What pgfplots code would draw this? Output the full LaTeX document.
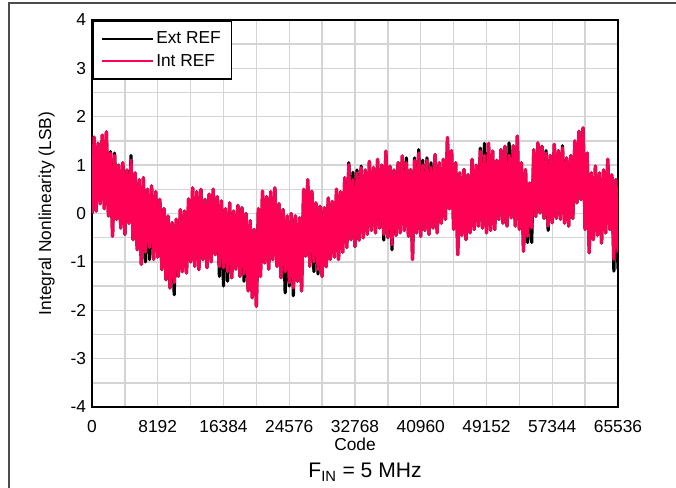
\documentclass[border=0pt]{standalone}
\usepackage{fontspec}
\setmainfont{Liberation Sans}
\usepackage{pgfplots}
\pgfplotsset{compat=1.18}
\definecolor{intref}{RGB}{255,0,85}
\definecolor{gridc}{RGB}{212,212,212}

\begin{document}
\begin{tikzpicture}
% page is 676 x 487 px, 1 px = 0.75pt
\path[use as bounding box] (0pt,0pt) rectangle (507pt,-365.25pt);
\draw[line width=1.1pt, black!70] (6.75pt,-375pt) -- (6.75pt,-2.25pt) -- (520pt,-2.25pt);

\begin{axis}[%
at={(69pt,-305.25pt)}, anchor=south west,
width=394.5pt, height=290.25pt,
scale only axis,
xmin=0, xmax=65536,
ymin=-4, ymax=4,
xtick={0,8192,16384,24576,32768,40960,49152,57344,65536},
ytick={-4,-3,...,4},
minor x tick num=1,
minor y tick num=1,
scaled x ticks=false,
/pgf/number format/assume math mode=true,
major tick length=0pt, minor tick length=0pt,
grid=both,
major grid style={gridc, line width=1.1pt},
minor grid style={gridc, line width=1.1pt},
axis line style={black, line width=1.8pt},
tick label style={font=\fontsize{13}{15}\selectfont},
xticklabel style={yshift=-6.5pt, /pgf/number format/.cd, fixed, 1000 sep={}},
yticklabel style={xshift=-1pt},
label style={font=\fontsize{13}{15}\selectfont},
xlabel={Code},
xlabel style={yshift=3pt},
ylabel={Integral Nonlinearity (LSB)},
ylabel style={yshift=5pt},
legend style={at={(0,1)}, anchor=north west, draw=black, line width=1.4pt,
  font=\fontsize{13}{15}\selectfont, inner xsep=6pt, inner ysep=6pt,
  row sep=2.5pt, legend cell align=left},
legend image code/.code={\draw[#1, line width=1.5pt] (0pt,0pt) -- (38pt,0pt);},
every axis plot/.append style={line join=round},
]
\addplot[black, line width=2.4pt] coordinates {
(0,0.0) (256,1.58) (512,0.05) (768,1.45) (1024,0.2) (1280,1.62) (1536,0.1) (1792,1.69)
(2048,-0.05) (2304,1.28) (2560,-0.47) (2816,1.25) (3072,-0.12) (3328,1.0) (3584,-0.3) (3840,1.05)
(4096,-0.43) (4352,0.9) (4608,-0.2) (4864,1.2) (5120,-0.54) (5376,0.84) (5632,-0.75) (5888,0.7)
(6144,-1.05) (6400,0.74) (6656,-1.0) (6912,0.5) (7168,-0.95) (7424,0.57) (7680,-0.95) (7936,0.45)
(8192,-0.9) (8448,0.29) (8704,-1.16) (8960,0.1) (9216,-1.37) (9472,-0.05) (9728,-1.54) (9984,-0.19)
(10240,-1.68) (10496,-0.12) (10752,-1.3) (11008,0.08) (11264,-1.2) (11520,0.05) (11776,-1.23) (12032,0.3)
(12288,-1.0) (12544,0.53) (12800,-1.09) (13056,0.45) (13312,-1.16) (13568,0.5) (13824,-0.95) (14080,0.29)
(14336,-1.12) (14592,0.4) (14848,-1.0) (15104,0.5) (15360,-0.85) (15616,0.35) (15872,-1.3) (16128,0.26)
(16384,-1.5) (16640,0.1) (16896,-1.4) (17152,0.22) (17408,-1.33) (17664,0.05) (17920,-1.15) (18176,0.17)
(18432,-1.3) (18688,0.12) (18944,-1.4) (19200,0.0) (19456,-1.6) (19712,-0.15) (19968,-1.74) (20224,-0.33)
(20480,-1.92) (20736,0.1) (20992,-1.3) (21248,0.46) (21504,-1.02) (21760,0.35) (22016,-1.15) (22272,0.45)
(22528,-0.95) (22784,0.53) (23040,-1.09) (23296,0.2) (23552,-1.33) (23808,0.08) (24064,-1.64) (24320,-0.05)
(24576,-1.5) (24832,0.0) (25088,-1.7) (25344,-0.05) (25600,-1.4) (25856,-0.09) (26112,-1.6) (26368,0.5)
(26624,-0.88) (26880,0.7) (27136,-1.09) (27392,0.46) (27648,-1.2) (27904,0.22) (28160,-1.25) (28416,0.15)
(28672,-1.3) (28928,0.12) (29184,-1.1) (29440,0.32) (29696,-0.95) (29952,0.25) (30208,-0.9) (30464,0.5)
(30720,-0.95) (30976,0.45) (31232,-0.8) (31488,0.74) (31744,-0.7) (32000,1.05) (32256,-0.54) (32512,0.85)
(32768,-0.68) (33024,0.9) (33280,-0.55) (33536,0.98) (33792,-0.5) (34048,0.9) (34304,-0.43) (34560,1.08)
(34816,-0.35) (35072,0.95) (35328,-0.4) (35584,1.12) (35840,-0.3) (36096,1.0) (36352,-0.55) (36608,1.29)
(36864,-0.5) (37120,0.98) (37376,-0.75) (37632,0.9) (37888,-0.45) (38144,1.05) (38400,-0.4) (38656,1.19)
(38912,-0.35) (39168,1.15) (39424,-0.47) (39680,0.91) (39936,-0.95) (40192,1.15) (40448,-0.4) (40704,1.32)
(40960,-0.47) (41216,1.1) (41472,-0.35) (41728,1.15) (41984,-0.43) (42240,1.05) (42496,-0.3) (42752,1.22)
(43008,-0.4) (43264,1.05) (43520,-0.2) (43776,1.12) (44032,-0.12) (44288,1.57) (44544,0.1) (44800,1.3)
(45056,-0.33) (45312,1.05) (45568,-0.85) (45824,0.84) (46080,-0.45) (46336,0.91) (46592,-0.54) (46848,0.8)
(47104,-0.4) (47360,1.12) (47616,-0.33) (47872,1.0) (48128,-0.26) (48384,1.35) (48640,-0.3) (48896,1.45)
(49152,-0.4) (49408,1.45) (49664,-0.35) (49920,1.29) (50176,-0.33) (50432,1.1) (50688,-0.12) (50944,1.32)
(51200,-0.2) (51456,1.39) (51712,-0.26) (51968,1.46) (52224,-0.09) (52480,1.4) (52736,-0.26) (52992,1.6)
(53248,-0.33) (53504,1.05) (53760,-0.78) (54016,0.91) (54272,-0.6) (54528,0.63) (54784,-0.6) (55040,1.32)
(55296,-0.06) (55552,1.46) (55808,0.01) (56064,1.39) (56320,-0.1) (56576,1.3) (56832,-0.35) (57088,1.2)
(57344,-0.19) (57600,1.43) (57856,-0.1) (58112,1.3) (58368,-0.12) (58624,1.4) (58880,-0.2) (59136,1.15)
(59392,-0.26) (59648,1.2) (59904,-0.1) (60160,1.5) (60416,0.22) (60672,1.7) (60928,0.29) (61184,1.77)
(61440,-0.33) (61696,1.25) (61952,-0.81) (62208,0.84) (62464,-0.54) (62720,0.98) (62976,-0.45) (63232,0.84)
(63488,-0.61) (63744,0.9) (64000,-0.4) (64256,1.12) (64512,-0.33) (64768,0.8) (65024,-1.19) (65280,0.7)
(65536,-1.15)
};
\addlegendentry{Ext REF}
\addplot[intref, line width=2.4pt] coordinates {
(0,0.0) (256,1.58) (512,0.05) (768,1.45) (1024,0.2) (1280,1.62) (1536,0.1) (1792,1.69)
(2048,-0.05) (2304,1.25) (2560,-0.47) (2816,1.2) (3072,-0.12) (3328,1.0) (3584,-0.3) (3840,1.05)
(4096,-0.43) (4352,0.9) (4608,-0.2) (4864,1.1) (5120,-0.54) (5376,0.84) (5632,-0.75) (5888,0.7)
(6144,-1.05) (6400,0.74) (6656,-0.8) (6912,0.5) (7168,-0.7) (7424,0.57) (7680,-0.95) (7936,0.45)
(8192,-0.9) (8448,0.29) (8704,-1.16) (8960,0.1) (9216,-1.37) (9472,-0.05) (9728,-1.54) (9984,-0.19)
(10240,-1.43) (10496,-0.12) (10752,-1.3) (11008,0.08) (11264,-1.2) (11520,0.05) (11776,-1.23) (12032,0.3)
(12288,-1.0) (12544,0.53) (12800,-1.09) (13056,0.45) (13312,-1.16) (13568,0.5) (13824,-0.95) (14080,0.29)
(14336,-1.12) (14592,0.4) (14848,-1.0) (15104,0.5) (15360,-0.85) (15616,0.35) (15872,-1.1) (16128,0.26)
(16384,-1.12) (16640,0.1) (16896,-1.2) (17152,0.22) (17408,-1.33) (17664,0.05) (17920,-1.15) (18176,0.17)
(18432,-1.3) (18688,0.12) (18944,-1.25) (19200,0.0) (19456,-1.6) (19712,-0.15) (19968,-1.74) (20224,-0.33)
(20480,-1.92) (20736,0.1) (20992,-1.3) (21248,0.46) (21504,-1.02) (21760,0.35) (22016,-1.15) (22272,0.45)
(22528,-0.95) (22784,0.53) (23040,-1.09) (23296,0.2) (23552,-1.33) (23808,0.08) (24064,-1.2) (24320,-0.05)
(24576,-1.43) (24832,0.0) (25088,-1.54) (25344,-0.05) (25600,-1.4) (25856,-0.09) (26112,-1.6) (26368,0.5)
(26624,-0.88) (26880,0.7) (27136,-1.09) (27392,0.46) (27648,-1.0) (27904,0.22) (28160,-1.16) (28416,0.15)
(28672,-1.3) (28928,0.12) (29184,-1.1) (29440,0.32) (29696,-0.95) (29952,0.25) (30208,-0.9) (30464,0.5)
(30720,-0.95) (30976,0.45) (31232,-0.8) (31488,0.74) (31744,-0.7) (32000,1.01) (32256,-0.54) (32512,0.7)
(32768,-0.68) (33024,0.84) (33280,-0.55) (33536,0.95) (33792,-0.5) (34048,0.9) (34304,-0.43) (34560,1.08)
(34816,-0.35) (35072,0.95) (35328,-0.4) (35584,1.12) (35840,-0.3) (36096,1.0) (36352,-0.43) (36608,1.29)
(36864,-0.5) (37120,0.98) (37376,-0.64) (37632,0.9) (37888,-0.45) (38144,1.05) (38400,-0.4) (38656,1.19)
(38912,-0.35) (39168,1.05) (39424,-0.47) (39680,0.91) (39936,-0.95) (40192,1.1) (40448,-0.4) (40704,1.25)
(40960,-0.47) (41216,1.0) (41472,-0.35) (41728,1.1) (41984,-0.43) (42240,0.95) (42496,-0.3) (42752,1.22)
(43008,-0.4) (43264,1.05) (43520,-0.2) (43776,1.12) (44032,-0.12) (44288,1.57) (44544,0.1) (44800,1.3)
(45056,-0.33) (45312,1.05) (45568,-0.85) (45824,0.84) (46080,-0.45) (46336,0.91) (46592,-0.54) (46848,0.8)
(47104,-0.4) (47360,1.12) (47616,-0.33) (47872,1.0) (48128,-0.26) (48384,1.29) (48640,-0.3) (48896,1.2)
(49152,-0.4) (49408,1.45) (49664,-0.35) (49920,1.29) (50176,-0.33) (50432,1.1) (50688,-0.12) (50944,1.32)
(51200,-0.2) (51456,1.39) (51712,-0.26) (51968,1.2) (52224,-0.09) (52480,1.4) (52736,-0.26) (52992,1.6)
(53248,-0.33) (53504,1.05) (53760,-0.78) (54016,0.91) (54272,-0.47) (54528,0.63) (54784,-0.3) (55040,1.32)
(55296,-0.06) (55552,1.46) (55808,0.01) (56064,1.39) (56320,-0.1) (56576,1.25) (56832,-0.26) (57088,1.2)
(57344,-0.19) (57600,1.43) (57856,-0.1) (58112,1.3) (58368,-0.12) (58624,1.36) (58880,-0.2) (59136,1.15)
(59392,-0.26) (59648,1.2) (59904,-0.1) (60160,1.5) (60416,0.22) (60672,1.7) (60928,0.29) (61184,1.77)
(61440,-0.33) (61696,1.25) (61952,-0.81) (62208,0.84) (62464,-0.54) (62720,0.98) (62976,-0.45) (63232,0.84)
(63488,-0.61) (63744,0.9) (64000,-0.4) (64256,1.12) (64512,-0.33) (64768,0.8) (65024,-0.95) (65280,0.7)
(65536,-0.81)
};
\addlegendentry{Int REF}
\end{axis}

\node[font=\fontsize{15.8}{18}\selectfont] at (273.75pt,-354pt) {F\textsubscript{IN} = 5 MHz};
\end{tikzpicture}
\end{document}
